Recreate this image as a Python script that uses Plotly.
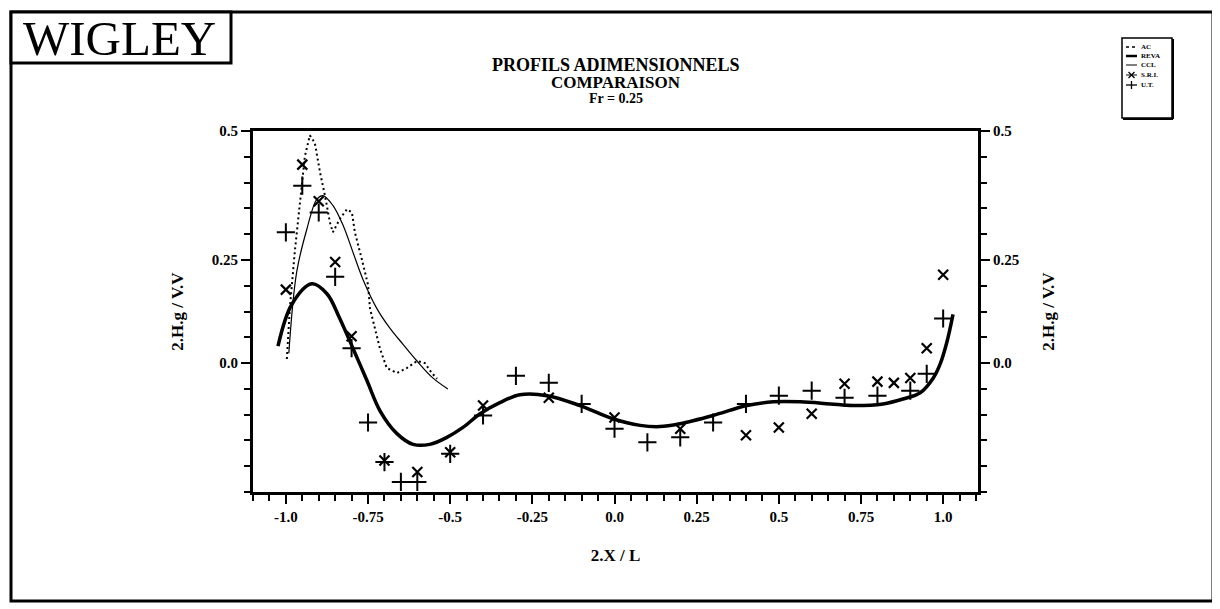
import plotly.graph_objects as go

# ---------------- data ----------------
ac_x = [-0.997, -0.988, -0.973, -0.957, -0.942, -0.927, -0.912, -0.896, -0.881, -0.866,
        -0.857, -0.836, -0.814, -0.799, -0.790, -0.769, -0.750, -0.744, -0.729, -0.714,
        -0.693, -0.662, -0.632, -0.601, -0.577, -0.556, -0.540]
ac_y = [0.010, 0.132, 0.269, 0.397, 0.502, 0.552, 0.534, 0.462, 0.406, 0.341,
        0.317, 0.349, 0.373, 0.365, 0.317, 0.252, 0.190, 0.132, 0.084, 0.036,
        -0.012, -0.024, -0.012, 0.005, 0.000, -0.024, -0.038]

reva_x = [-1.024, -0.982, -0.921, -0.875, -0.836, -0.796, -0.753, -0.714, -0.662, -0.613,
          -0.562, -0.510, -0.461, -0.409, -0.349, -0.288, -0.205, -0.105, -0.005, 0.078,
          0.138, 0.199, 0.300, 0.403, 0.483, 0.565, 0.656, 0.726, 0.817, 0.878,
          0.930, 0.970, 0.991, 1.012, 1.030]
reva_y = [0.041, 0.142, 0.192, 0.168, 0.108, 0.036, -0.043, -0.115, -0.171, -0.197,
          -0.197, -0.180, -0.156, -0.123, -0.096, -0.077, -0.079, -0.103, -0.135, -0.151,
          -0.154, -0.147, -0.127, -0.103, -0.094, -0.094, -0.099, -0.103, -0.099, -0.087,
          -0.072, -0.036, -0.002, 0.053, 0.118]

ccl_x = [-0.991, -0.967, -0.936, -0.906, -0.887, -0.857, -0.826, -0.796, -0.766, -0.723,
         -0.683, -0.644, -0.601, -0.553, -0.507]
ccl_y = [0.024, 0.221, 0.325, 0.397, 0.406, 0.382, 0.334, 0.269, 0.204, 0.132,
         0.084, 0.046, 0.005, -0.036, -0.063]

sri_x = [-1.0, -0.95, -0.9, -0.85, -0.8, -0.7, -0.6, -0.5, -0.4, -0.2,
         0.0, 0.2, 0.4, 0.5, 0.6, 0.7, 0.8, 0.85, 0.9, 0.95, 1.0]
sri_y = [0.178, 0.481, 0.392, 0.245, 0.065, -0.236, -0.264, -0.216, -0.103, -0.084,
         -0.132, -0.159, -0.175, -0.156, -0.123, -0.050, -0.045, -0.048, -0.036, 0.036, 0.214]

ut_x = [-1.0, -0.95, -0.9, -0.85, -0.8, -0.75, -0.7, -0.65, -0.6, -0.5,
        -0.4, -0.3, -0.2, -0.1, 0.0, 0.1, 0.2, 0.3, 0.4, 0.5,
        0.6, 0.7, 0.8, 0.9, 0.95, 1.0]
ut_y = [0.317, 0.430, 0.365, 0.209, 0.036, -0.144, -0.240, -0.288, -0.288, -0.220,
        -0.127, -0.031, -0.048, -0.099, -0.159, -0.192, -0.180, -0.144, -0.099, -0.079,
        -0.067, -0.084, -0.079, -0.067, -0.026, 0.108]

x_tickvals = [-1.0, -0.75, -0.5, -0.25, 0.0, 0.25, 0.5, 0.75, 1.0]
x_ticktext = ["-1.0", "-0.75", "-0.5", "-0.25", "0.0", "0.25", "0.5", "0.75", "1.0"]
y_tickvals = [0.0, 0.25, 0.5625]
y_ticktext = ["0.0", "0.25", "0.5"]
legend_names = ["AC", "REVA", "CCL", "S.R.I.", "U.T."]

# ---------------- figure ----------------
SERIF = "Liberation Serif, Times New Roman, serif"
tickfont = dict(family=SERIF, size=15, color="black", weight="bold")
titlefont = dict(family=SERIF, size=17, color="black", weight="bold")

fig = go.Figure()
fig.add_trace(go.Scatter(x=ac_x, y=ac_y, mode="lines", name=legend_names[0],
                         line=dict(color="black", width=2, dash="2px,3px")))
fig.add_trace(go.Scatter(x=reva_x, y=reva_y, mode="lines", name=legend_names[1],
                         line=dict(color="black", width=3.5, shape="spline")))
fig.add_trace(go.Scatter(x=ccl_x, y=ccl_y, mode="lines", name=legend_names[2],
                         line=dict(color="black", width=1.2, shape="spline")))
fig.add_trace(go.Scatter(x=sri_x, y=sri_y, mode="markers", name=legend_names[3],
                         marker=dict(symbol="x-thin-open", size=10, color="black",
                                     line=dict(color="black", width=2.2))))
fig.add_trace(go.Scatter(x=ut_x, y=ut_y, mode="markers", name=legend_names[4],
                         marker=dict(symbol="cross-thin-open", size=13, color="black",
                                     line=dict(color="black", width=2))))
# invisible trace carrying the right-hand axis
fig.add_trace(go.Scatter(x=[0], y=[0], yaxis="y2", mode="markers", showlegend=False,
                         marker=dict(opacity=0), hoverinfo="skip"))

yax = dict(range=[-0.3125, 0.5625], tickmode="array", tickvals=y_tickvals, ticktext=y_ticktext,
           ticks="outside", ticklen=9, tickwidth=2, tickcolor="black",
           minor=dict(tickmode="linear", tick0=0, dtick=0.0625, ticks="outside",
                      ticklen=6, tickwidth=2, tickcolor="black", showgrid=False),
           showline=True, linecolor="black", linewidth=3, showgrid=False, zeroline=False,
           tickfont=tickfont, title=dict(text="2.H.g / V.V", font=titlefont, standoff=24))

# plot area in screen pixels (page has an 8px body margin)
PL, PR, PT, PB = 253, 978, 131, 492
FW, FH = 1212, 601
fig.update_layout(
    width=FW, height=FH,
    margin=dict(l=PL - 8, r=FW - (PR - 8), t=PT - 8, b=FH - (PB - 8), autoexpand=False),
    paper_bgcolor="white", plot_bgcolor="white",
    showlegend=False,
    xaxis=dict(range=[-1.1, 1.106], tickmode="array", tickvals=x_tickvals, ticktext=x_ticktext,
               ticks="outside", ticklen=9, tickwidth=2, tickcolor="black",
               minor=dict(tickmode="linear", tick0=0, dtick=0.05, ticks="outside",
                          ticklen=6, tickwidth=2, tickcolor="black", showgrid=False),
               showline=True, linecolor="black", linewidth=3, mirror=True,
               showgrid=False, zeroline=False, tickfont=tickfont,
               title=dict(text="2.X / L", font=titlefont, standoff=26)),
    yaxis=yax,
    yaxis2=dict(yax, overlaying="y", side="right"),
)

W, H = float(PR - PL), float(PB - PT)
def px(xp):
    return (xp - PL) / W
def py(yp):
    return (PB - yp) / H

# titles
titles = [("PROFILS ADIMENSIONNELS", 18, 65),
          ("COMPARAISON", 17, 83),
          ("Fr = 0.25", 14, 99)]
for txt, sz, yy in titles:
    fig.add_annotation(text=txt, x=px(616), y=py(yy), xref="paper", yref="paper",
                       xanchor="center", yanchor="middle", showarrow=False,
                       font=dict(family=SERIF, size=sz, color="black", weight="bold"))

# outer frame and WIGLEY box
fig.add_shape(type="rect", xref="paper", yref="paper",
              x0=px(11), x1=px(1213), y0=py(601), y1=py(12),
              line=dict(color="black", width=3))
fig.add_shape(type="rect", xref="paper", yref="paper",
              x0=px(11), x1=px(231), y0=py(63), y1=py(12),
              line=dict(color="black", width=3), fillcolor="white")
fig.add_annotation(text="WIGLEY", x=px(119), y=py(38), xref="paper", yref="paper",
                   xanchor="center", yanchor="middle",
                   showarrow=False, font=dict(family=SERIF, size=49, color="black"))

# hand-drawn legend box (small, as in the original)
LX0, LX1, LY0, LY1 = 1122, 1172, 38, 118
fig.add_shape(type="rect", xref="paper", yref="paper",
              x0=px(LX0), x1=px(LX1), y0=py(LY1), y1=py(LY0),
              line=dict(color="black", width=1.5), fillcolor="white")
fig.add_shape(type="line", xref="paper", yref="paper",
              x0=px(LX1 + 1), x1=px(LX1 + 1), y0=py(LY1 + 1), y1=py(LY0 + 1),
              line=dict(color="black", width=2))
fig.add_shape(type="line", xref="paper", yref="paper",
              x0=px(LX0 + 1), x1=px(LX1 + 1), y0=py(LY1 + 1), y1=py(LY1 + 1),
              line=dict(color="black", width=2))
row_y = [47, 56, 65, 75, 85]
styles = [dict(width=1.5, dash="dot"), dict(width=2.5), dict(width=1)]
for i, name in enumerate(legend_names):
    yy = row_y[i]
    if i < 3:
        fig.add_shape(type="line", xref="paper", yref="paper",
                      x0=px(1126), x1=px(1137), y0=py(yy), y1=py(yy),
                      line=dict(color="black", **styles[i]))
    elif i == 3:
        fig.add_shape(type="line", xref="paper", yref="paper",
                      x0=px(1126), x1=px(1137), y0=py(yy), y1=py(yy),
                      line=dict(color="black", width=1))
        for dx, dy in [(-3, -3), (-3, 3)]:
            fig.add_shape(type="line", xref="paper", yref="paper",
                          x0=px(1131.5 + dx), x1=px(1131.5 - dx),
                          y0=py(yy + dy), y1=py(yy - dy),
                          line=dict(color="black", width=1.3))
    else:
        fig.add_shape(type="line", xref="paper", yref="paper",
                      x0=px(1126), x1=px(1137), y0=py(yy), y1=py(yy),
                      line=dict(color="black", width=1.3))
        fig.add_shape(type="line", xref="paper", yref="paper",
                      x0=px(1131.5), x1=px(1131.5), y0=py(yy - 4), y1=py(yy + 4),
                      line=dict(color="black", width=1.3))
    fig.add_annotation(text=name, x=px(1139), y=py(yy), xref="paper", yref="paper",
                       xanchor="left", yanchor="middle", showarrow=False,
                       font=dict(family=SERIF, size=7, color="black", weight="bold"))

fig.write_html("out.html")
